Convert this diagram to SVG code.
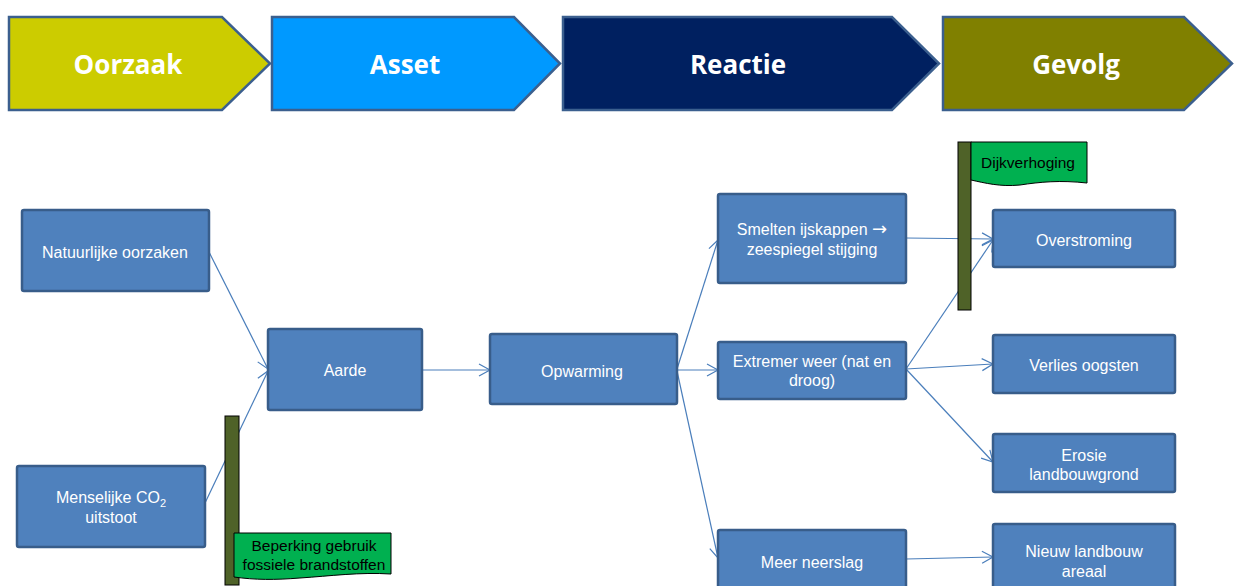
<svg xmlns="http://www.w3.org/2000/svg" width="1238" height="586" viewBox="0 0 1238 586">
<style>
.chev{stroke:#3B5F8E;stroke-width:2.5;stroke-linejoin:miter}
.ht{font-family:"Open Sans","Liberation Sans",sans-serif;font-weight:bold;font-size:26px;fill:#fff;text-anchor:middle}
.box{fill:#4F81BD;stroke:#385D8A;stroke-width:2.5}
.nt{font-family:"Liberation Sans",Arial,sans-serif;font-size:16px;fill:#fff;text-anchor:middle}
.pole{fill:#4F6228;stroke:#000;stroke-width:1}
.flag{fill:#00B050;stroke:#000;stroke-width:1}
.ft{font-family:"Liberation Sans",Arial,sans-serif;font-size:15.5px;fill:#000;text-anchor:middle}
.con{fill:none;stroke:#4A7EBB;stroke-width:1.2}
</style>
<defs>
<marker id="arr" markerUnits="userSpaceOnUse" markerWidth="14" markerHeight="14" viewBox="0 0 14 14" refX="12" refY="7" orient="auto">
<path d="M1,1 L12,7 L1,13" fill="none" stroke="#4A7EBB" stroke-width="1.2"/>
</marker>
</defs>
<rect width="1238" height="586" fill="#fff"/>
<g id="header-oorzaak"><path class="chev" fill="#CCCC00" d="M9,17 H222 L270,63.5 L222,110 H9 Z"/><text class="ht" x="128" y="74">Oorzaak</text></g>
<g id="header-asset"><path class="chev" fill="#0099FF" d="M272,17 H514 L560,63.5 L514,110 H272 Z"/><text class="ht" x="405" y="74">Asset</text></g>
<g id="header-reactie"><path class="chev" fill="#002060" d="M563,17 H892 L939,63.5 L892,110 H563 Z"/><text class="ht" x="738" y="74">Reactie</text></g>
<g id="header-gevolg"><path class="chev" fill="#808000" d="M943,17 H1184 L1232,63.5 L1184,110 H943 Z"/><text class="ht" x="1076" y="74">Gevolg</text></g>
<g id="connectors">
<line class="con" x1="209" y1="252" x2="268" y2="369" marker-end="url(#arr)"/>
<line class="con" x1="205" y1="503" x2="268" y2="371" marker-end="url(#arr)"/>
<line class="con" x1="422" y1="370" x2="490" y2="370" marker-end="url(#arr)"/>
<line class="con" x1="677" y1="369" x2="718" y2="240" marker-end="url(#arr)"/>
<line class="con" x1="677" y1="370" x2="718" y2="370" marker-end="url(#arr)"/>
<line class="con" x1="677" y1="371" x2="718" y2="558" marker-end="url(#arr)"/>
<line class="con" x1="906" y1="238" x2="993" y2="239" marker-end="url(#arr)"/>
<line class="con" x1="906" y1="369" x2="993" y2="240" marker-end="url(#arr)"/>
<line class="con" x1="906" y1="369" x2="993" y2="364" marker-end="url(#arr)"/>
<line class="con" x1="906" y1="369" x2="993" y2="462" marker-end="url(#arr)"/>
<line class="con" x1="906" y1="559" x2="993" y2="557" marker-end="url(#arr)"/>
</g>
<g id="node-natuurlijke"><rect class="box" x="22" y="210" width="187" height="81" rx="2"/><text class="nt" x="115" y="257.5">Natuurlijke oorzaken</text></g>
<g id="node-menselijke"><rect class="box" x="17" y="466" width="188" height="81" rx="2"/><text class="nt" x="111" y="502.5">Menselijke CO<tspan font-size="11" dy="4">2</tspan></text><text class="nt" x="111" y="522.5">uitstoot</text></g>
<g id="node-aarde"><rect class="box" x="268" y="329" width="154" height="81" rx="2"/><text class="nt" x="345" y="375.5">Aarde</text></g>
<g id="node-opwarming"><rect class="box" x="490" y="334" width="187" height="70" rx="2"/><text class="nt" x="582" y="376.5">Opwarming</text></g>
<g id="node-smelten"><rect class="box" x="718" y="194" width="188" height="89" rx="2"/><text class="nt" x="812" y="234.5">Smelten ijskappen <tspan font-family="DejaVu Sans,sans-serif" font-size="18">→</tspan></text><text class="nt" x="812" y="254.5">zeespiegel stijging</text></g>
<g id="node-extremer"><rect class="box" x="718" y="342" width="188" height="57" rx="2"/><text class="nt" x="812" y="366.5">Extremer weer (nat en</text><text class="nt" x="812" y="385.5">droog)</text></g>
<g id="node-neerslag"><rect class="box" x="718" y="530" width="188" height="70" rx="2"/><text class="nt" x="812" y="567.5">Meer neerslag</text></g>
<g id="node-overstroming"><rect class="box" x="993" y="210" width="182" height="57" rx="2"/><text class="nt" x="1084" y="245.5">Overstroming</text></g>
<g id="node-verlies"><rect class="box" x="993" y="335" width="182" height="58" rx="2"/><text class="nt" x="1084" y="370.5">Verlies oogsten</text></g>
<g id="node-erosie"><rect class="box" x="993" y="434" width="182" height="58" rx="2"/><text class="nt" x="1084" y="460.5">Erosie</text><text class="nt" x="1084" y="479.5">landbouwgrond</text></g>
<g id="node-nieuw"><rect class="box" x="993" y="524" width="182" height="70" rx="2"/><text class="nt" x="1084" y="556.5">Nieuw landbouw</text><text class="nt" x="1084" y="576.5">areaal</text></g>
<g id="flag-beperking"><rect class="pole" x="225" y="416" width="14" height="169"/><path class="flag" d="M234,533 H391 V574 C360,572 330,576 300,578 C275,580 255,580 234,577 Z"/><text class="ft" x="314" y="551">Beperking gebruik</text><text class="ft" x="314" y="570">fossiele brandstoffen</text></g>
<g id="flag-dijk"><rect class="pole" x="958" y="142" width="13" height="168"/><path class="flag" d="M971,142 H1087 V183 C1060,180 1040,182 1020,185 C1000,187 985,183 971,180 Z"/><text class="ft" x="1028" y="168">Dijkverhoging</text></g>
</svg>
